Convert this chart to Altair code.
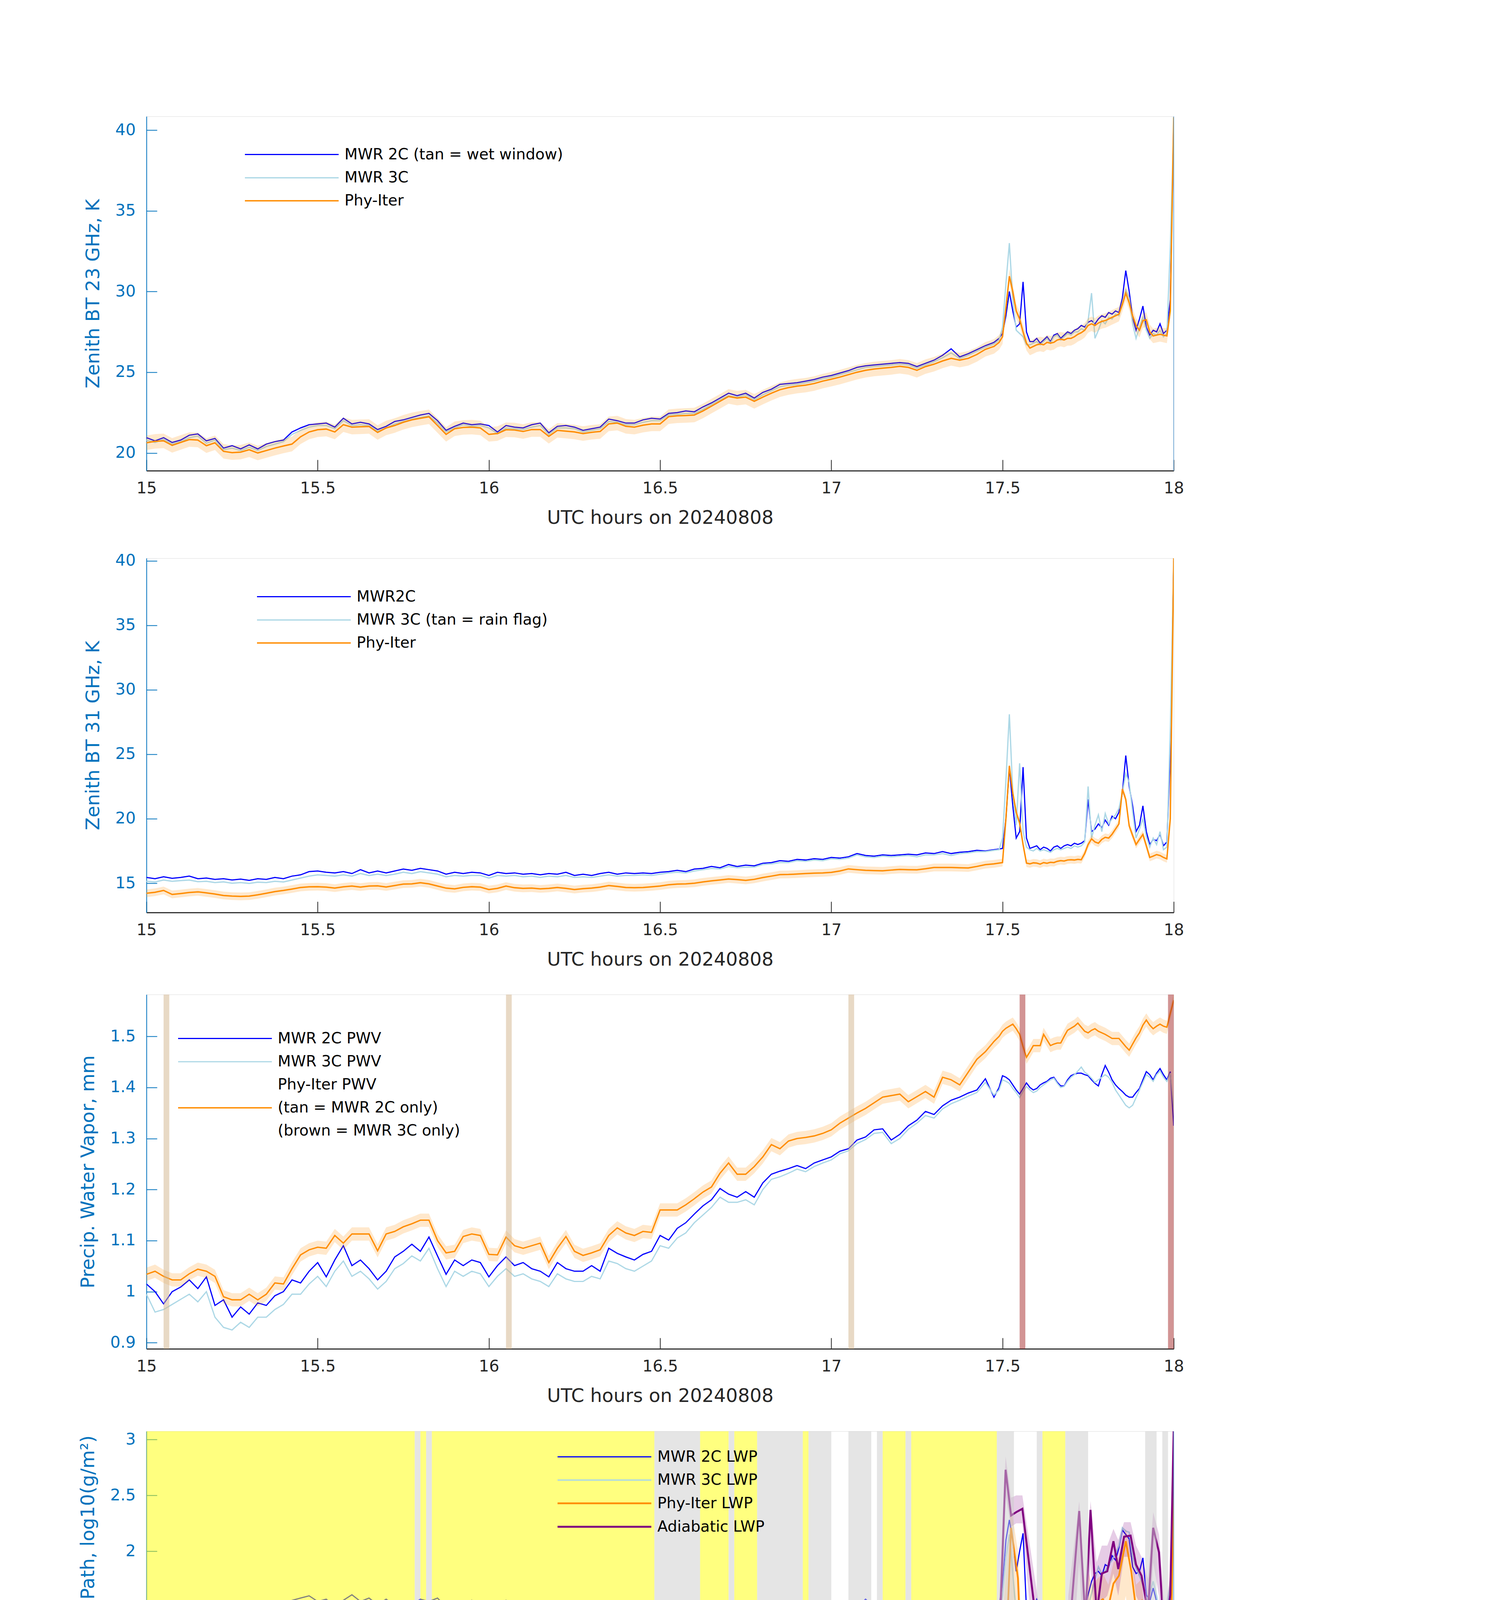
import altair as alt
import pandas as pd

FONT = "DejaVu Sans"
AXBLUE = "#0072BD"
AXDARK = "#262626"
C_2C = "#0000FF"
C_3C = "#ADD8E6"
C_PHY = "#FF8C00"
C_ADI = "#800080"
W, H = 2630, 907
X_TICKS = [15, 15.5, 16, 16.5, 17, 17.5, 18]

# ---------------- time grids (UTC hours) ----------------
T_A = [round(15.0 + 0.025 * i, 3) for i in range(100)]   # 15.000 .. 17.475
T_B = [round(17.49 + 0.01 * i, 2) for i in range(52)]     # 17.49 .. 18.00
TIME = T_A + T_B

# ---------------- Panel 1: 23 GHz BT (K) ----------------
bt23_2c = [
    20.95, 20.75, 20.95, 20.65, 20.80, 21.10, 21.18, 20.75, 20.90, 20.30,
    20.45, 20.25, 20.50, 20.25, 20.55, 20.70, 20.80, 21.30, 21.55, 21.75,
    21.80, 21.85, 21.60, 22.15, 21.80, 21.90, 21.80, 21.45, 21.65, 21.95,
    22.05, 22.20, 22.35, 22.45, 22.00, 21.40, 21.65, 21.85, 21.75, 21.80,
    21.70, 21.30, 21.70, 21.60, 21.55, 21.75, 21.85, 21.25, 21.65, 21.70,
    21.60, 21.40, 21.50, 21.60, 22.10, 22.00, 21.85, 21.85, 22.05, 22.15,
    22.10, 22.45, 22.50, 22.60, 22.55, 22.85, 23.10, 23.40, 23.70, 23.55,
    23.70, 23.40, 23.75, 23.95, 24.25, 24.30, 24.35, 24.45, 24.55, 24.70,
    24.80, 24.95, 25.10, 25.30, 25.40, 25.45, 25.50, 25.55, 25.60, 25.55,
    25.35, 25.55, 25.75, 26.05, 26.45, 25.95, 26.15, 26.40, 26.65, 26.85,
    27.1, 27.4, 28.5, 30.0, 28.8, 27.8, 28.0, 30.6, 27.5, 26.9,
    26.9, 27.1, 26.8, 27.0, 27.2, 26.9, 27.3, 27.4, 27.1, 27.3,
    27.5, 27.4, 27.6, 27.7, 27.9, 27.8, 28.1, 28.2, 28.0, 28.3,
    28.5, 28.4, 28.7, 28.6, 28.8, 28.7, 29.6, 31.3, 30.0, 28.4,
    27.6, 28.3, 29.1, 27.8, 27.3, 27.6, 27.5, 28.0, 27.4, 27.6,
    29.5, 40.5]
bt23_3c = [
    20.80, 20.65, 20.85, 20.55, 20.70, 20.95, 21.05, 20.60, 20.80, 20.20,
    20.30, 20.15, 20.35, 20.15, 20.40, 20.55, 20.70, 21.15, 21.40, 21.60,
    21.70, 21.70, 21.50, 22.00, 21.70, 21.75, 21.70, 21.35, 21.55, 21.80,
    21.95, 22.10, 22.20, 22.30, 21.85, 21.30, 21.55, 21.75, 21.65, 21.70,
    21.55, 21.20, 21.55, 21.50, 21.45, 21.60, 21.70, 21.15, 21.55, 21.55,
    21.50, 21.30, 21.40, 21.50, 21.95, 21.90, 21.75, 21.75, 21.90, 22.00,
    22.00, 22.35, 22.40, 22.45, 22.45, 22.70, 23.00, 23.30, 23.55, 23.45,
    23.60, 23.30, 23.60, 23.85, 24.10, 24.20, 24.25, 24.35, 24.45, 24.60,
    24.70, 24.85, 25.00, 25.15, 25.30, 25.35, 25.40, 25.45, 25.50, 25.45,
    25.25, 25.45, 25.65, 25.90, 26.20, 25.85, 26.05, 26.30, 26.55, 26.75,
    27.0, 27.8, 30.5, 33.0, 29.5, 27.6, 27.4, 27.2, 26.7, 26.7,
    26.8, 26.9, 26.7, 26.9, 27.1, 26.8, 27.2, 27.3, 27.0, 27.2,
    27.4, 27.3, 27.5, 27.5, 27.7, 27.6, 28.2, 29.9, 27.1, 27.6,
    28.2, 28.0, 28.4, 28.3, 28.6, 28.5, 29.3, 30.1, 29.6, 28.0,
    27.1, 27.8, 28.4, 27.6, 27.1, 27.4, 27.3, 27.6, 27.2, 27.4,
    32.8, 40.2]
bt23_phy = [
    20.63, 20.72, 20.75, 20.47, 20.65, 20.83, 20.80, 20.45, 20.63, 20.10,
    20.02, 20.05, 20.20, 20.00, 20.15, 20.30, 20.43, 20.55, 21.00, 21.30,
    21.44, 21.48, 21.30, 21.75, 21.60, 21.62, 21.64, 21.27, 21.55, 21.70,
    21.90, 22.05, 22.15, 22.24, 21.70, 21.15, 21.50, 21.58, 21.60, 21.55,
    21.15, 21.20, 21.44, 21.42, 21.33, 21.45, 21.45, 21.03, 21.40, 21.35,
    21.30, 21.20, 21.28, 21.33, 21.80, 21.85, 21.65, 21.60, 21.72, 21.80,
    21.80, 22.25, 22.30, 22.32, 22.35, 22.60, 22.90, 23.20, 23.50, 23.40,
    23.46, 23.20, 23.46, 23.70, 23.92, 24.05, 24.14, 24.20, 24.30, 24.45,
    24.57, 24.70, 24.85, 25.00, 25.12, 25.20, 25.25, 25.30, 25.37, 25.30,
    25.12, 25.35, 25.50, 25.70, 25.86, 25.75, 25.86, 26.10, 26.42, 26.60,
    26.85, 27.2, 29.0, 30.95, 30.0, 28.8, 28.3, 27.5, 26.8, 26.5,
    26.6, 26.7, 26.75, 26.7, 26.85, 26.8, 26.85, 27.0, 27.05, 27.0,
    27.1, 27.1, 27.2, 27.35, 27.45, 27.6, 27.9, 28.0, 27.9, 28.05,
    28.15, 28.2, 28.3, 28.4, 28.5, 28.6, 29.2, 29.9, 29.3, 28.5,
    27.9, 27.6, 28.2, 28.25, 27.5, 27.25, 27.3, 27.35, 27.3, 27.25,
    28.8, 40.8]
UNC_23 = 0.45

# ---------------- Panel 2: 31 GHz BT (K) ----------------
bt31_2c = [
    15.45, 15.35, 15.50, 15.38, 15.45, 15.55, 15.35, 15.40, 15.30, 15.35,
    15.25, 15.32, 15.22, 15.35, 15.30, 15.45, 15.35, 15.55, 15.65, 15.90,
    15.95, 15.85, 15.80, 15.90, 15.75, 16.05, 15.80, 15.95, 15.80, 15.95,
    16.10, 16.00, 16.15, 16.05, 15.95, 15.70, 15.85, 15.75, 15.85, 15.80,
    15.60, 15.85, 15.75, 15.80, 15.70, 15.75, 15.65, 15.75, 15.70, 15.85,
    15.60, 15.70, 15.60, 15.75, 15.85, 15.70, 15.80, 15.75, 15.80, 15.75,
    15.85, 15.90, 16.00, 15.90, 16.10, 16.15, 16.30, 16.20, 16.45, 16.30,
    16.40, 16.35, 16.55, 16.60, 16.75, 16.70, 16.85, 16.80, 16.90, 16.85,
    17.00, 16.95, 17.05, 17.30, 17.15, 17.10, 17.20, 17.15, 17.20, 17.25,
    17.20, 17.35, 17.30, 17.45, 17.30, 17.40, 17.45, 17.55, 17.50, 17.60,
    17.65, 17.7, 20.0, 24.0, 21.0, 18.5, 19.0, 24.0, 18.5, 17.7,
    17.8, 17.9, 17.6, 17.8, 17.7, 17.5, 17.8, 17.9, 17.7, 17.9,
    18.0, 17.9, 18.1, 18.0, 18.1, 18.3, 21.5, 19.0, 19.2, 19.6,
    19.3, 19.9, 19.5, 20.2, 20.0, 20.5, 22.0, 24.9, 22.5, 21.0,
    19.0, 19.5, 21.0, 19.0, 18.0, 18.4, 18.3, 18.8, 17.9, 18.2,
    25.0, 40.0]
bt31_3c = [
    15.15, 15.10, 15.25, 15.15, 15.20, 15.25, 15.12, 15.15, 15.05, 15.10,
    15.00, 15.05, 14.98, 15.08, 15.05, 15.15, 15.10, 15.25, 15.40, 15.55,
    15.65, 15.60, 15.55, 15.65, 15.55, 15.75, 15.60, 15.70, 15.60, 15.70,
    15.85, 15.75, 15.90, 15.80, 15.70, 15.50, 15.60, 15.55, 15.60, 15.60,
    15.40, 15.60, 15.55, 15.60, 15.50, 15.55, 15.45, 15.55, 15.50, 15.60,
    15.45, 15.50, 15.45, 15.55, 15.65, 15.55, 15.60, 15.60, 15.65, 15.60,
    15.70, 15.80, 15.85, 15.80, 15.95, 16.05, 16.15, 16.10, 16.30, 16.20,
    16.25, 16.25, 16.45, 16.50, 16.60, 16.60, 16.75, 16.70, 16.80, 16.75,
    16.90, 16.85, 16.95, 17.20, 17.05, 17.00, 17.10, 17.05, 17.10, 17.15,
    17.05, 17.20, 17.20, 17.30, 17.15, 17.30, 17.35, 17.45, 17.45, 17.55,
    17.6, 18.5, 23.0, 28.1, 22.0, 19.5, 24.3, 19.0, 17.8, 17.6,
    17.5, 17.7, 17.5, 17.6, 17.5, 17.4, 17.6, 17.7, 17.6, 17.7,
    17.8, 17.7, 17.9, 17.8, 17.9, 18.2, 22.5, 18.5, 19.5, 20.3,
    19.0, 20.4, 19.6, 20.0, 20.3, 20.8, 22.0, 23.5, 22.8, 20.5,
    18.5, 19.2, 20.0, 18.6, 17.8, 18.5, 18.0, 19.0, 17.6, 17.8,
    27.0, 40.0]
bt31_phy = [
    14.22, 14.30, 14.44, 14.13, 14.20, 14.28, 14.33, 14.25, 14.16, 14.05,
    14.00, 13.98, 14.00, 14.10, 14.22, 14.35, 14.44, 14.55, 14.67, 14.72,
    14.73, 14.70, 14.62, 14.72, 14.78, 14.70, 14.78, 14.80, 14.71, 14.82,
    14.93, 14.95, 15.04, 14.95, 14.78, 14.62, 14.56, 14.68, 14.73, 14.70,
    14.51, 14.60, 14.78, 14.65, 14.60, 14.62, 14.56, 14.60, 14.67, 14.60,
    14.51, 14.58, 14.62, 14.70, 14.82, 14.75, 14.67, 14.65, 14.67, 14.72,
    14.78, 14.88, 14.93, 14.95, 15.00, 15.10, 15.18, 15.25, 15.33, 15.28,
    15.22, 15.30, 15.44, 15.55, 15.67, 15.68, 15.71, 15.75, 15.78, 15.80,
    15.84, 15.95, 16.11, 16.05, 16.00, 15.98, 15.96, 16.02, 16.07, 16.05,
    16.04, 16.12, 16.22, 16.22, 16.22, 16.20, 16.18, 16.30, 16.44, 16.50,
    16.56, 16.6, 20.0, 24.1, 22.0, 20.5, 19.67, 18.0, 16.56, 16.5,
    16.58, 16.56, 16.48, 16.6, 16.55, 16.62, 16.6, 16.7, 16.75, 16.72,
    16.8, 16.82, 16.8, 16.85, 16.82, 17.3, 18.0, 18.44, 18.2, 18.1,
    18.4, 18.56, 18.5, 18.8, 19.2, 19.6, 22.3, 21.5, 19.44, 18.7,
    18.0, 18.4, 18.78, 17.9, 17.0, 17.1, 17.22, 17.15, 17.0, 16.89,
    20.0, 40.2]
UNC_31 = 0.3

# ---------------- Panel 3: PWV (mm) ----------------
pwv_2c = [
    1.015, 1.000, 0.976, 1.000, 1.009, 1.023, 1.006, 1.029, 0.973, 0.984,
    0.950, 0.970, 0.956, 0.978, 0.973, 0.992, 1.000, 1.023, 1.017, 1.040,
    1.057, 1.029, 1.062, 1.090, 1.051, 1.062, 1.045, 1.023, 1.040, 1.068,
    1.079, 1.093, 1.079, 1.107, 1.070, 1.034, 1.062, 1.051, 1.062, 1.057,
    1.029, 1.051, 1.068, 1.051, 1.057, 1.045, 1.040, 1.029, 1.057, 1.045,
    1.040, 1.040, 1.051, 1.040, 1.085, 1.075, 1.068, 1.062, 1.073, 1.079,
    1.110, 1.101, 1.124, 1.135, 1.152, 1.168, 1.180, 1.202, 1.191, 1.185,
    1.196, 1.185, 1.213, 1.230, 1.236, 1.241, 1.247, 1.241, 1.252, 1.258,
    1.264, 1.275, 1.280, 1.297, 1.303, 1.317, 1.319, 1.297, 1.308, 1.325,
    1.336, 1.353, 1.347, 1.364, 1.375, 1.381, 1.389, 1.395, 1.417, 1.381,
    1.400, 1.423, 1.420, 1.415, 1.405, 1.395, 1.387, 1.398, 1.409, 1.400,
    1.395, 1.398, 1.405, 1.409, 1.412, 1.418, 1.420, 1.410, 1.403, 1.403,
    1.415, 1.423, 1.426, 1.428, 1.428, 1.425, 1.423, 1.415, 1.408, 1.403,
    1.425, 1.443, 1.430, 1.415, 1.405, 1.398, 1.392, 1.385, 1.381, 1.381,
    1.390, 1.398, 1.415, 1.431, 1.425, 1.415, 1.428, 1.437, 1.425, 1.415,
    1.431, 1.325]
pwv_3c = [
    0.995, 0.960, 0.965, 0.975, 0.985, 0.995, 0.980, 1.000, 0.950, 0.930,
    0.925, 0.940, 0.930, 0.950, 0.950, 0.965, 0.975, 0.995, 0.995, 1.015,
    1.030, 1.010, 1.040, 1.060, 1.030, 1.040, 1.025, 1.005, 1.020, 1.045,
    1.055, 1.070, 1.060, 1.085, 1.045, 1.010, 1.040, 1.030, 1.040, 1.035,
    1.010, 1.030, 1.045, 1.030, 1.035, 1.025, 1.020, 1.010, 1.035, 1.025,
    1.020, 1.020, 1.030, 1.025, 1.060, 1.055, 1.045, 1.040, 1.050, 1.060,
    1.090, 1.085, 1.105, 1.115, 1.135, 1.150, 1.165, 1.185, 1.175, 1.175,
    1.180, 1.170, 1.200, 1.220, 1.225, 1.232, 1.240, 1.235, 1.245, 1.252,
    1.258, 1.270, 1.276, 1.290, 1.298, 1.310, 1.312, 1.290, 1.300, 1.318,
    1.330, 1.345, 1.340, 1.358, 1.368, 1.375, 1.383, 1.390, 1.410, 1.385,
    1.395, 1.415, 1.412, 1.408, 1.398, 1.390, 1.380, 1.392, 1.402, 1.395,
    1.390, 1.393, 1.400, 1.405, 1.410, 1.415, 1.418, 1.408, 1.400, 1.402,
    1.412, 1.420, 1.425, 1.432, 1.440, 1.430, 1.425, 1.418, 1.410, 1.415,
    1.420, 1.425, 1.420, 1.410, 1.395, 1.385, 1.375, 1.365, 1.360, 1.365,
    1.380, 1.395, 1.410, 1.425, 1.420, 1.412, 1.425, 1.432, 1.420, 1.412,
    1.428, 1.360]
pwv_phy = [
    1.034, 1.040, 1.030, 1.023, 1.023, 1.035, 1.044, 1.040, 1.030, 0.990,
    0.984, 0.984, 0.995, 0.984, 0.995, 1.017, 1.015, 1.045, 1.072, 1.082,
    1.087, 1.085, 1.110, 1.095, 1.113, 1.113, 1.113, 1.080, 1.113, 1.118,
    1.127, 1.133, 1.140, 1.140, 1.100, 1.076, 1.079, 1.108, 1.113, 1.110,
    1.073, 1.072, 1.107, 1.090, 1.085, 1.090, 1.095, 1.057, 1.085, 1.108,
    1.079, 1.071, 1.076, 1.082, 1.110, 1.125, 1.115, 1.110, 1.118, 1.116,
    1.160, 1.160, 1.160, 1.170, 1.182, 1.195, 1.205, 1.232, 1.252, 1.230,
    1.230, 1.245, 1.264, 1.288, 1.280, 1.295, 1.300, 1.302, 1.305, 1.310,
    1.317, 1.330, 1.340, 1.350, 1.359, 1.370, 1.381, 1.384, 1.387, 1.372,
    1.382, 1.392, 1.381, 1.420, 1.415, 1.405, 1.430, 1.455, 1.470, 1.490,
    1.500, 1.510, 1.516, 1.520, 1.524, 1.515, 1.504, 1.480, 1.459, 1.470,
    1.482, 1.482, 1.482, 1.504, 1.493, 1.482, 1.485, 1.487, 1.487, 1.500,
    1.512, 1.516, 1.520, 1.526, 1.518, 1.510, 1.507, 1.512, 1.515, 1.510,
    1.507, 1.504, 1.500, 1.496, 1.496, 1.496, 1.488, 1.480, 1.473, 1.485,
    1.497, 1.507, 1.522, 1.532, 1.522, 1.515, 1.520, 1.524, 1.520, 1.518,
    1.545, 1.571]
UNC_PWV = 0.013
# minutes (index after 15 UTC) with a single instrument only
PWV_TAN_MIN = [3, 63, 123]      # MWR 2C only
PWV_BROWN_MIN = [153, 179]      # MWR 3C only

# ---------------- Panel 4: log10 LWP ----------------
lwp_2c = [
    1.52, 1.48, 1.53, 1.47, 1.55, 1.49, 1.52, 1.47, 1.50, 1.54,
    1.46, 1.52, 1.49, 1.55, 1.51, 1.54, 1.50, 1.56, 1.58, 1.60,
    1.55, 1.57, 1.50, 1.56, 1.61, 1.55, 1.58, 1.52, 1.57, 1.51,
    1.55, 1.52, 1.57, 1.55, 1.58, 1.50, 1.54, 1.50, 1.56, 1.49,
    1.53, 1.48, 1.56, 1.51, 1.49, 1.54, 1.50, 1.52, 1.47, 1.53,
    1.50, 1.43, 1.52, 1.48, 1.55, 1.50, 1.54, 1.49, 1.52, 1.50,
    1.51, 1.55, 1.44, 1.40, 1.48, 1.50, 1.50, 1.46, 1.39, 1.54,
    1.42, 1.48, 1.47, 1.49, 1.50, 1.47, 1.37, 1.53, 1.44, 1.52,
    1.50, 1.46, 1.53, 1.49, 1.57, 1.50, 1.46, 1.51, 1.42, 1.50,
    1.54, 1.47, 1.52, 1.48, 1.47, 1.52, 1.49, 1.51, 1.48, 1.46,
    1.51, 1.70, 2.10, 2.28, 2.10, 1.82, 2.00, 2.16, 1.48, 1.50,
    1.46, 1.57, 1.52, 1.48, 1.50, 1.53, 1.50, 1.47, 1.48, 1.45,
    1.50, 1.55, 1.50, 1.48, 1.55, 1.48, 1.61, 1.73, 1.80, 1.82,
    1.78, 1.88, 1.86, 1.96, 1.92, 2.03, 2.19, 2.15, 2.11, 1.86,
    1.80, 1.82, 1.94, 1.61, 1.55, 1.67, 1.55, 1.48, 1.40, 1.50,
    1.61, 2.70]
lwp_3c = [
    1.22, 1.18, None, 1.15, 1.19, 1.16, 1.20, 1.14, 1.17, 1.13,
    1.16, 1.10, 1.14, 1.12, 1.17, 1.20, 1.24, 1.28, 1.30, 1.26,
    1.29, 1.24, 1.28, 1.26, 1.30, 1.25, 1.27, 1.23, 1.28, 1.26,
    1.29, 1.27, 1.32, 1.29, 1.27, 1.21, 1.24, 1.26, 1.23, 1.25,
    1.20, 1.15, None, 1.24, 1.20, 1.26, 1.22, 1.25, 1.20, 1.24,
    1.22, 1.26, 1.23, 1.27, 1.24, 1.22, 1.25, 1.23, 1.24, 1.21,
    1.22, 1.25, 1.27, 1.23, 1.26, 1.24, 1.22, 1.25, 1.23, 1.27,
    1.25, 1.23, 1.25, 1.28, 1.26, 1.29, 1.27, 1.30, 1.28, 1.31,
    1.34, 1.36, None, 1.28, 1.36, 1.33, 1.31, 1.35, 1.33, 1.30,
    1.34, 1.32, 1.35, 1.33, 1.36, 1.34, 1.37, 1.36, 1.40, 1.43,
    1.45, 1.60, 1.95, 2.15, 1.80, 1.44, 1.50, 1.46, 1.44, 1.47,
    1.43, 1.42, 1.45, 1.40, 1.44, 1.46, 1.46, 1.43, 1.47, 1.45,
    1.49, 1.52, 1.49, 1.51, 1.48, 1.50, 1.50, 1.62, 1.75, 1.86,
    1.80, 1.82, 1.88, 1.92, 1.98, 2.05, 2.21, 2.18, 2.17, 1.95,
    1.85, 1.78, 1.70, 1.55, 1.62, 1.73, 1.60, 1.42, 1.48, 1.50,
    1.70, 2.28]
# Phy-Iter LWP: (segment, t, value, low, high); -0.5 = below plot (log of ~0)
lwp_phy = [
    (0, 17.085, -0.5, -0.5, 0.55), (0, 17.125, -0.5, -0.5, 0.73), (0, 17.15, -0.5, -0.5, 0.55),
    (1, 17.49, -0.5, -0.5, 1.0), (1, 17.525, 2.21, 1.0, 2.4), (1, 17.545, 1.76, 0.9, 2.0),
    (1, 17.555, 1.03, -0.5, 1.4), (1, 17.565, -0.5, -0.5, 1.0), (1, 17.60, -0.5, -0.5, 0.95),
    (2, 17.69, -0.5, -0.5, 1.0), (2, 17.735, -0.5, -0.5, 1.0), (2, 17.752, 1.53, 0.9, 1.8),
    (2, 17.762, 1.44, 0.8, 1.7), (2, 17.776, 1.53, 0.95, 1.75), (2, 17.793, 1.57, 1.0, 1.8),
    (2, 17.809, 1.50, 0.95, 1.7), (2, 17.824, 1.71, 1.2, 1.9), (2, 17.84, 1.78, 1.3, 1.95),
    (2, 17.86, 2.09, 1.6, 2.2), (2, 17.876, 1.82, 1.2, 2.0), (2, 17.89, 1.48, 0.8, 1.7),
    (2, 17.906, 1.55, 0.9, 1.75), (2, 17.92, -0.5, -0.5, 1.3), (2, 17.938, 0.65, -0.5, 1.3),
    (2, 17.953, 0.50, -0.5, 1.2), (2, 17.962, -0.5, -0.5, 1.0), (2, 17.985, -0.5, -0.5, 1.5),
    (2, 18.0, 2.76, 2.3, 2.9)]
# Adiabatic LWP: (segment, t, value, low, high)
lwp_adi = [
    (0, 17.085, 1.15, 0.55, 1.55), (0, 17.10, 1.14, 0.6, 1.5), (0, 17.12, 1.25, 0.85, 1.55),
    (0, 17.135, 1.15, 0.55, 1.5),
    (1, 17.49, 1.16, 0.55, 1.5), (1, 17.509, 2.73, 2.5, 2.85), (1, 17.525, 2.32, 2.22, 2.48),
    (1, 17.54, 2.35, 2.25, 2.5), (1, 17.558, 2.38, 2.25, 2.5), (1, 17.607, 1.15, 0.55, 1.5),
    (2, 17.692, 1.15, 0.55, 1.6), (2, 17.724, 2.36, 1.9, 2.45), (2, 17.742, 1.38, 0.8, 1.6),
    (2, 17.757, 2.37, 1.9, 2.45), (2, 17.775, 1.44, 1.0, 1.9), (2, 17.79, 1.80, 1.55, 2.05),
    (2, 17.806, 1.82, 1.6, 2.05), (2, 17.824, 2.09, 1.8, 2.2), (2, 17.838, 1.84, 1.6, 2.1),
    (2, 17.855, 2.13, 1.95, 2.26), (2, 17.874, 2.14, 1.95, 2.26), (2, 17.89, 1.88, 1.6, 2.05),
    (2, 17.906, 1.78, 1.5, 1.95), (2, 17.925, 1.46, 1.1, 1.75), (2, 17.94, 2.21, 1.9, 2.35),
    (2, 17.957, 1.99, 1.6, 2.15), (2, 17.974, 1.13, 0.5, 1.45), (2, 17.99, 1.61, 1.2, 1.8),
    (2, 18.0, 3.1, 2.9, 3.1)]
# isolated retrievals (minute index, adiabatic, phy-iter) shown as x markers
LWP_ISOLATED = [(47, 1.15, 0.57), (49, 1.15, 0.33)]

# ---------------- Panel 5: Phy-Iter DQ flag per minute ----------------
FLAG_RUNS = [(5, 47), (4, 1), (5, 1), (4, 1), (5, 39), (3, 8), (5, 5), (3, 1), (5, 4),
             (3, 8), (5, 1), (3, 4), (0, 3), (3, 3), (4, 1), (0, 1), (4, 1), (5, 4),
             (3, 1), (5, 15), (3, 1), (4, 2), (0, 4), (4, 1), (5, 4), (4, 4), (0, 10),
             (4, 2), (0, 1), (4, 1), (0, 1)]
FLAG_EXTRA = [(161, 3)]

# =====================================================================
TICK_FS, TITLE_FS, LEG_FS = 41, 48, 39


def minute_t(k):
    return 15.0 + (k + 0.5) / 60.0


def minute_df(mins):
    return pd.DataFrame({"t0": [15.0 + k / 60.0 for k in mins],
                         "t1": [15.0 + (k + 1) / 60.0 for k in mins]})


def long_df(series):
    rows = []
    for name, vals in series.items():
        seg = 0
        for t, v in zip(TIME, vals):
            if v is None:
                seg += 1
                continue
            rows.append({"t": t, "v": v, "series": name, "seg": f"{name}-{seg}"})
    return pd.DataFrame(rows)


def band_df(vals, unc):
    return pd.DataFrame({"t": TIME, "lo": [v - unc for v in vals], "hi": [v + unc for v in vals]})


XS = alt.Scale(domain=[15, 18], nice=False, zero=False)
XAX = alt.Axis(values=X_TICKS, format="~g", title="UTC hours on 20240808",
               labelFontSize=TICK_FS, titleFontSize=TITLE_FS, labelFont=FONT, titleFont=FONT,
               labelColor=AXDARK, titleColor=AXDARK, titleFontWeight="normal",
               domainColor="#333333", domainWidth=3, tickColor=AXDARK, tickWidth=2,
               tickSize={"expr": "-28"}, labelPadding=53, titlePadding=32,
               grid=False, labelFlush=False)


def yaxis(title, values, fmt="~g"):
    return alt.Axis(title=title, values=values, format=fmt,
                    labelFontSize=TICK_FS, titleFontSize=TITLE_FS, labelFont=FONT, titleFont=FONT,
                    labelColor=AXBLUE, titleColor=AXBLUE, titleFontWeight="normal",
                    domainColor=AXBLUE, domainWidth=2, tickColor=AXBLUE, tickWidth=2,
                    tickSize={"expr": "-27"}, labelPadding=55, titlePadding=31, grid=False)


def legend(x, y, expr=None):
    kw = dict(title=None, orient="none", legendX=x, legendY=y,
              symbolType="M-6,0L6,0", symbolSize=1600, symbolFillColor="transparent",
              symbolOpacity=1, labelFont=FONT, labelFontSize=LEG_FS, labelColor="black",
              labelOffset=113, rowPadding=17, labelLimit=3000, padding=0)
    if expr:
        kw["labelExpr"] = expr
    return alt.Legend(**kw)


def series_enc(dom, cols, widths, leg):
    return dict(
        color=alt.Color("series:N", scale=alt.Scale(domain=dom, range=cols), legend=leg),
        strokeWidth=alt.StrokeWidth("series:N", scale=alt.Scale(domain=dom, range=widths), legend=leg),
    )


def X(f="t"):
    return alt.X(f"{f}:Q", scale=XS, axis=XAX)


def edge_rule():
    return alt.Chart(pd.DataFrame({"t": [18.0]})).mark_rule(
        color="#5B9BD0", strokeWidth=2, opacity=0.8).encode(x=X())


def bt_panel(v2c, v3c, vphy, unc, names, ydom, yticks, ytitle, legxy, edge):
    ys = alt.Scale(domain=ydom, nice=False, zero=False)
    yax = yaxis(ytitle, yticks)
    enc = series_enc(names, [C_2C, C_3C, C_PHY], [3, 3.5, 8], legend(*legxy))
    mwr = long_df({names[0]: v2c, names[1]: v3c})
    phy = long_df({names[2]: vphy})
    layers = [
        alt.Chart(mwr).mark_line(clip=True).encode(
            x=X(), y=alt.Y("v:Q", scale=ys, axis=yax), detail="seg:N", **enc),
        alt.Chart(band_df(vphy, unc)).mark_area(color=C_PHY, opacity=0.2, clip=True).encode(
            x=X(), y=alt.Y("lo:Q", scale=ys, axis=yax), y2="hi:Q"),
        alt.Chart(phy).mark_line(clip=True).encode(
            x=X(), y=alt.Y("v:Q", scale=ys, axis=yax), **enc),
    ]
    if edge:
        layers.append(edge_rule())
    return alt.layer(*layers).properties(width=W, height=H)


p1 = bt_panel(bt23_2c, bt23_3c, bt23_phy, UNC_23,
              ["MWR 2C (tan = wet window)", "MWR 3C", "Phy-Iter"],
              [18.9, 40.85], [20, 25, 30, 35, 40], "Zenith BT 23 GHz, K", (350, 76), True)
p2 = bt_panel(bt31_2c, bt31_3c, bt31_phy, UNC_31,
              ["MWR2C", "MWR 3C (tan = rain flag)", "Phy-Iter"],
              [12.73, 40.2], [15, 20, 25, 30, 35, 40], "Zenith BT 31 GHz, K", (381, 77), False)

# ---- Panel 3 ----
ys3 = alt.Scale(domain=[0.888, 1.582], nice=False, zero=False)
yax3 = yaxis("Precip. Water Vapor, mm", [0.9, 1.0, 1.1, 1.2, 1.3, 1.4, 1.5])
dom3 = ["MWR 2C PWV", "MWR 3C PWV", "Phy-Iter PWV", "Phy-Iter", "(brown = MWR 3C only)"]
enc3 = series_enc(dom3, [C_2C, C_3C, "rgba(0,0,0,0)", C_PHY, "rgba(0,0,0,0)"], [3, 3.5, 0, 8, 0],
                  legend(179, 91, "datum.label == 'Phy-Iter' ? '(tan = MWR 2C only)' : datum.label"))
mwr3 = long_df({"MWR 2C PWV": pwv_2c, "MWR 3C PWV": pwv_3c})
phy3 = long_df({"Phy-Iter": pwv_phy})
p3 = alt.layer(
    alt.Chart(mwr3).mark_line(clip=True).encode(
        x=X(), y=alt.Y("v:Q", scale=ys3, axis=yax3), detail="seg:N", **enc3),
    alt.Chart(band_df(pwv_phy, UNC_PWV)).mark_area(color=C_PHY, opacity=0.2, clip=True).encode(
        x=X(), y=alt.Y("lo:Q", scale=ys3, axis=yax3), y2="hi:Q"),
    alt.Chart(phy3).mark_line(clip=True).encode(
        x=X(), y=alt.Y("v:Q", scale=ys3, axis=yax3), **enc3),
    alt.Chart(minute_df(PWV_TAN_MIN)).mark_rect(color="#D2B48C", opacity=0.5).encode(
        x=X("t0"), x2="t1:Q"),
    alt.Chart(minute_df(PWV_BROWN_MIN)).mark_rect(color="#A52A2A", opacity=0.5).encode(
        x=X("t0"), x2="t1:Q"),
).properties(width=W, height=H)

# ---- flags (panel 5) and flag shading (panel 4) ----
flags = []
for f, n in FLAG_RUNS:
    flags += [f] * n
flag_pts = pd.DataFrame({"t": [minute_t(k) for k in range(len(flags))] + [minute_t(k) for k, _ in FLAG_EXTRA],
                         "flag": flags + [f for _, f in FLAG_EXTRA]})

cls = ["none" if f == 0 else ("yellow" if f == 5 else "gray") for f in flags]
shade_rows = []
start = 0
for k in range(1, len(cls) + 1):
    if k == len(cls) or cls[k] != cls[start]:
        if cls[start] != "none":
            shade_rows.append({"t0": 15.0 + start / 60.0, "t1": 15.0 + k / 60.0, "c": cls[start]})
        start = k
shade = pd.DataFrame(shade_rows)

# ---- Panel 4 ----
ys4 = alt.Scale(domain=[-0.1, 3.075], nice=False, zero=False)
yax4 = yaxis("log10 Liquid Water Path, log10(g/m\u00b2)", [0, 0.5, 1, 1.5, 2, 2.5, 3])
dom4 = ["MWR 2C LWP", "MWR 3C LWP", "Phy-Iter LWP", "Adiabatic LWP"]
enc4 = series_enc(dom4, [C_2C, C_3C, C_PHY, C_ADI], [3, 5, 8, 4], legend(1150, 44))
mwr4 = long_df({"MWR 2C LWP": lwp_2c, "MWR 3C LWP": lwp_3c})
phy4 = pd.DataFrame(
    [{"series": "Phy-Iter LWP", "seg": f"p{s}", "t": t, "v": v, "lo": lo, "hi": hi} for s, t, v, lo, hi in lwp_phy]
    + [{"series": "Adiabatic LWP", "seg": f"a{s}", "t": t, "v": v, "lo": lo, "hi": hi} for s, t, v, lo, hi in lwp_adi])
iso_min = [k for k, _, _ in LWP_ISOLATED]
iso_strip = pd.DataFrame({"t0": [15.0 + k / 60.0 + 0.004 for k in iso_min],
                          "t1": [15.0 + (k + 1) / 60.0 - 0.004 for k in iso_min]})
iso_adi = pd.DataFrame({"t": [minute_t(k) for k, _, _ in LWP_ISOLATED], "v": [a for _, a, _ in LWP_ISOLATED]})
iso_phy = pd.DataFrame({"t": [minute_t(k) for k, _, _ in LWP_ISOLATED], "v": [p for _, _, p in LWP_ISOLATED]})
Y4 = lambda f: alt.Y(f"{f}:Q", scale=ys4, axis=yax4)

p4 = alt.layer(
    alt.Chart(mwr4).mark_line(clip=True).encode(x=X(), y=Y4("v"), detail="seg:N", **enc4),
    alt.Chart(phy4[phy4.series == "Phy-Iter LWP"]).mark_area(color=C_PHY, opacity=0.2, clip=True).encode(
        x=X(), y=Y4("lo"), y2="hi:Q", detail="seg:N"),
    alt.Chart(phy4[phy4.series == "Adiabatic LWP"]).mark_area(color=C_ADI, opacity=0.2, clip=True).encode(
        x=X(), y=Y4("lo"), y2="hi:Q", detail="seg:N"),
    alt.Chart(iso_strip.assign(lo=-0.1, hi=0.8)).mark_rect(color=C_PHY, opacity=0.25, clip=True).encode(
        x=X("t0"), x2="t1:Q", y=Y4("lo"), y2="hi:Q"),
    alt.Chart(iso_strip.assign(lo=0.55, hi=1.45)).mark_rect(color=C_ADI, opacity=0.25, clip=True).encode(
        x=X("t0"), x2="t1:Q", y=Y4("lo"), y2="hi:Q"),
    alt.Chart(phy4).mark_line(clip=True).encode(x=X(), y=Y4("v"), detail="seg:N", **enc4),
    alt.Chart(iso_adi).mark_point(shape="cross", angle=45, filled=True, size=220, color=C_ADI,
                                  opacity=0.8).encode(x=X(), y=Y4("v")),
    alt.Chart(iso_phy).mark_point(shape="cross", angle=45, filled=True, size=220, color=C_PHY,
                                  opacity=0.8).encode(x=X(), y=Y4("v")),
    alt.Chart(shade[shade.c == "yellow"]).mark_rect(color="#FFFF00", opacity=0.5).encode(
        x=X("t0"), x2="t1:Q"),
    alt.Chart(shade[shade.c == "gray"]).mark_rect(color="#CCCCCC", opacity=0.5).encode(
        x=X("t0"), x2="t1:Q"),
    edge_rule(),
).properties(width=W, height=H)

# ---- Panel 5 ----
ys5 = alt.Scale(domain=[-0.5, 11.53], nice=False, zero=False)
yax5 = yaxis("MWR Phy Iter DQ Flag", [0, 2, 4, 6, 8, 10], fmt="d")
p5 = alt.layer(
    alt.Chart(flag_pts).mark_circle(color=C_PHY, size=60, opacity=1).encode(
        x=X(), y=alt.Y("flag:Q", scale=ys5, axis=yax5)),
    edge_rule(),
).properties(width=W, height=H)

chart = alt.vconcat(p1, p2, p3, p4, p5, spacing=63).resolve_scale(
    color="independent", strokeWidth="independent", y="independent"
).resolve_legend(color="independent", strokeWidth="independent").properties(
    padding={"left": 194, "top": 288, "right": 40, "bottom": 40}
).configure_view(stroke="transparent").configure(font=FONT)

chart.save("out.html", embed_options={"renderer": "svg", "actions": False})
